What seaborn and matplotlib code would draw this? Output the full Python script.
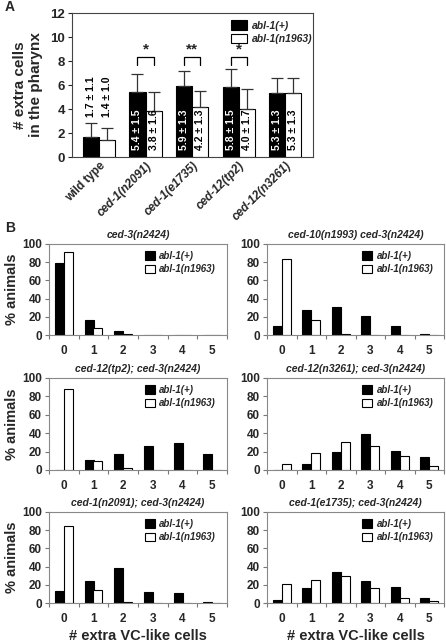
import numpy as np
import pandas as pd
import matplotlib
matplotlib.use("Agg")
import matplotlib.pyplot as plt
import seaborn as sns
from matplotlib.patches import Patch

# ==============================
# Data
# ==============================

alleles = ["abl-1(+)", "abl-1(n1963)"]

# Panel A - extra cells in the pharynx
strains_a = ["wild type", "ced-1(n2091)", "ced-1(e1735)", "ced-12(tp2)", "ced-12(n3261)"]
mean_wt = [1.7, 5.4, 5.9, 5.8, 5.3]
sd_wt = [1.1, 1.5, 1.3, 1.5, 1.3]
mean_mut = [1.4, 3.8, 4.2, 4.0, 5.3]
sd_mut = [1.0, 1.6, 1.3, 1.7, 1.3]
signif = ["", "*", "**", "*", ""]

# Panel B - % animals with N extra VC-like cells
n_cells = [0, 1, 2, 3, 4, 5]
titles_b = [
    "ced-3(n2424)",
    "ced-10(n1993) ced-3(n2424)",
    "ced-12(tp2); ced-3(n2424)",
    "ced-12(n3261); ced-3(n2424)",
    "ced-1(n2091); ced-3(n2424)",
    "ced-1(e1735); ced-3(n2424)",
]
pct_wt = [
    [79, 17, 4, 0, 0, 0],
    [10, 27, 31, 21, 10, 1],
    [0, 11, 17, 26, 29, 17],
    [0, 6, 20, 39, 21, 14],
    [13, 24, 39, 12, 11, 1],
    [3, 16, 34, 24, 18, 5],
]
pct_mut = [
    [91, 8, 1, 0, 0, 0],
    [83, 16, 1, 0, 0, 0],
    [88, 10, 2, 0, 0, 0],
    [7, 18, 30, 26, 15, 4],
    [85, 14, 1, 0, 0, 0],
    [21, 25, 30, 16, 6, 2],
]

# ==============================
# Style
# ==============================

sns.set_style("white")
plt.rcParams["font.family"] = ["Liberation Sans", "DejaVu Sans"]
plt.rcParams["font.weight"] = "bold"

W, H = 446, 642
fig = plt.figure(figsize=(W / 100, H / 100), dpi=100)

def px_axes(left, top, right, bottom):
    return fig.add_axes([left / W, 1 - bottom / H, (right - left) / W, (bottom - top) / H])

palette = {"abl-1(+)": "black", "abl-1(n1963)": "white"}

def make_legend(ax, anchor, size, hlen):
    handles = [Patch(facecolor="black", edgecolor="black", lw=0.8),
               Patch(facecolor="white", edgecolor="black", lw=0.8)]
    ax.legend(handles, alleles, loc="upper left", bbox_to_anchor=anchor,
              frameon=False, handlelength=hlen, handleheight=1.0,
              handletextpad=0.5, labelspacing=0.35, borderaxespad=0.3,
              prop={"style": "italic", "weight": "bold", "size": size})

# ==============================
# Panel A
# ==============================

df_a = pd.DataFrame({
    "strain": strains_a * 2,
    "allele": [alleles[0]] * 5 + [alleles[1]] * 5,
    "mean": mean_wt + mean_mut,
    "sd": sd_wt + sd_mut,
})

axA = px_axes(72, 13, 313, 157)
sns.barplot(data=df_a, x="strain", y="mean", hue="allele", palette=palette,
            edgecolor="black", linewidth=0.8, width=0.69, ax=axA, legend=False)

for cont, sds, means, col in zip(axA.containers, [sd_wt, sd_mut], [mean_wt, mean_mut], ["white", "black"]):
    for i, (bar, s, m) in enumerate(zip(cont, sds, means)):
        xc = bar.get_x() + bar.get_width() / 2
        axA.errorbar(xc, m, yerr=[[0], [s]], fmt="none", ecolor="#333333",
                     elinewidth=0.9, capsize=4, capthick=0.9)
        label = f"{m:.1f} ± {s:.1f}"
        if i == 0:
            axA.text(xc, 5.0, label, rotation=90, ha="center", va="center",
                     fontsize=7.5, fontweight="bold", color="black")
        else:
            axA.text(xc, 2.3, label, rotation=90, ha="center", va="center",
                     fontsize=7.5, fontweight="bold", color=col)

# significance brackets
for i, s in enumerate(signif):
    if not s:
        continue
    b0 = axA.containers[0][i]
    b1 = axA.containers[1][i]
    x0 = b0.get_x() + b0.get_width() / 2
    x1 = b1.get_x() + b1.get_width() / 2
    axA.plot([x0, x0, x1, x1], [7.7, 8.3, 8.3, 7.7], color="black", lw=0.9)
    axA.text((x0 + x1) / 2, 8.35, s, ha="center", va="bottom", fontsize=11, fontweight="bold")

axA.set_xlim(-0.58, 4.6)
axA.set_ylim(0, 12)
axA.set_yticks(range(0, 13, 2))
axA.set_xlabel("")
axA.set_ylabel("# extra cells\nin the pharynx", fontsize=11, fontweight="bold", labelpad=5)
axA.tick_params(axis="y", direction="out", length=3, width=0.8, labelsize=9.5, left=True, pad=2)
axA.tick_params(axis="x", length=0, labelsize=8.5, pad=2)
axA.set_xticks(range(5))
axA.set_xticklabels(strains_a, rotation=45, ha="right", rotation_mode="anchor")
for i, t in enumerate(axA.get_xticklabels()):
    t.set_fontweight("bold")
    if i > 0:
        t.set_fontstyle("italic")
for sp in axA.spines.values():
    sp.set_color("#444444")
    sp.set_linewidth(0.8)
make_legend(axA, (0.63, 1.0), 7.5, 1.5)

fig.text(5 / W, 1 - 7 / H, "A", fontsize=10, fontweight="bold", va="center")
fig.text(5 / W, 1 - 228 / H, "B", fontsize=10, fontweight="bold", va="center")

# ==============================
# Panel B
# ==============================

cols = [(49, 227), (267, 444)]
rows = [(244, 335), (378, 470), (512, 603)]

for k in range(6):
    r, c = divmod(k, 2)
    left, right = cols[c]
    top, bottom = rows[r]
    ax = px_axes(left, top, right, bottom)
    df_b = pd.DataFrame({
        "cells": [str(n) for n in n_cells] * 2,
        "allele": [alleles[0]] * 6 + [alleles[1]] * 6,
        "pct": pct_wt[k] + pct_mut[k],
    })
    sns.barplot(data=df_b, x="cells", y="pct", hue="allele", palette=palette,
                edgecolor="black", linewidth=0.8, width=0.6, ax=ax, legend=False)
    ax.set_xlim(-0.5, 5.45)
    ax.set_ylim(0, 100)
    ax.set_yticks(range(0, 101, 20))
    ax.set_xticks(range(6))
    ax.set_xticks(np.arange(-0.5, 5.6, 1.0), minor=True)
    ax.tick_params(axis="x", which="major", length=0, labelsize=8.5, pad=7)
    ax.tick_params(axis="x", which="minor", direction="out", length=3, width=0.8,
                   bottom=True, color="#777777")
    ax.tick_params(axis="y", direction="out", length=3, width=0.8, left=True,
                   labelsize=8.5, pad=2, color="#777777")
    for t in ax.get_xticklabels() + ax.get_yticklabels():
        t.set_fontweight("bold")
    ax.set_title(titles_b[k], fontsize=7.5, fontweight="bold", style="italic", pad=4)
    ax.set_xlabel("# extra VC-like cells" if r == 2 else "", fontsize=10.5, fontweight="bold", labelpad=3)
    ax.set_ylabel("% animals" if c == 0 else "", fontsize=10.5, fontweight="bold", labelpad=2)
    for sp in ax.spines.values():
        sp.set_color("#888888")
        sp.set_linewidth(0.8)
    make_legend(ax, (0.5, 1.0), 7, 1.0)

plt.savefig("out.png", dpi=100)
